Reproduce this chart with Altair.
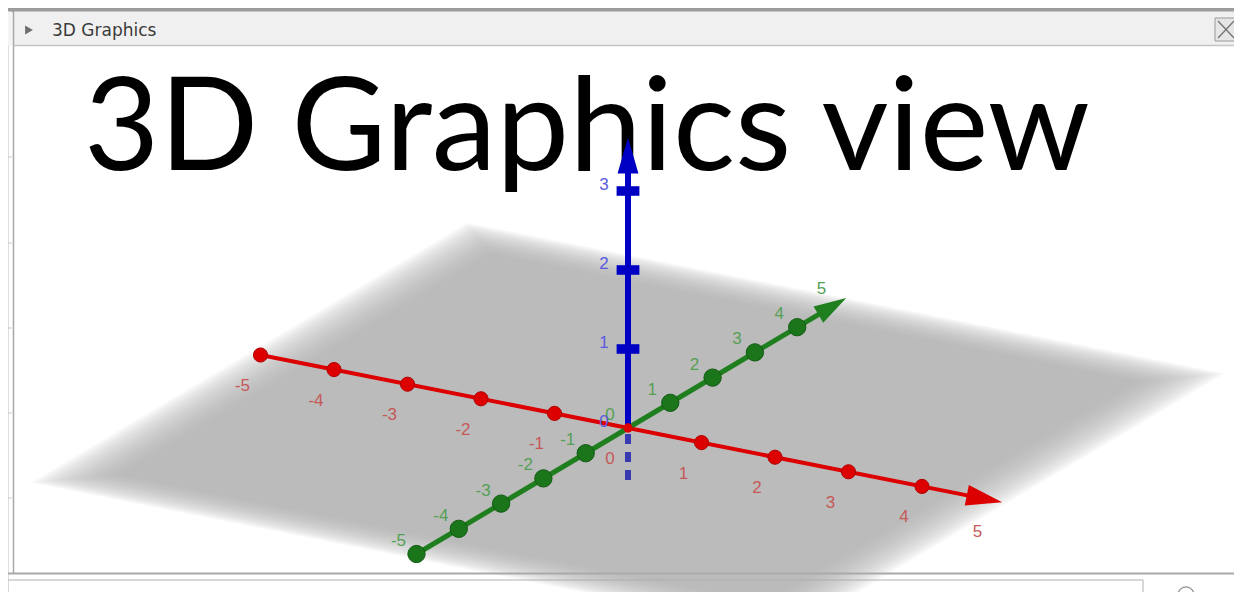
import math
import altair as alt
import pandas as pd

# ---------------- data (axis values) ----------------
x_bead_vals = [-5, -4, -3, -2, -1, 1, 2, 3, 4]
y_bead_vals = [-5, -4, -3, -2, -1, 1, 2, 3, 4]
z_bead_vals = [1, 2, 3]
x_label_vals = [-5, -4, -3, -2, -1, 0, 1, 2, 3, 4, 5]
y_label_vals = [-5, -4, -3, -2, -1, 0, 1, 2, 3, 4, 5]
z_label_vals = [0, 1, 2, 3]
plane_half_extents = [5.15, 5.1, 5.05, 5.0, 4.95, 4.9, 4.85, 4.8,
                      4.75, 4.7, 4.65, 4.6, 4.55, 4.5, 4.45, 4.4]

# ---------------- view / projection (style) ----------------
W, H = 1226, 584          # chart drawn at page offset (8, 8)
ORIGIN = (628.0, 428.0)
UX = (73.5, 14.6)
UY = (42.3, -25.2)
UZ = (0.0, -79.0)

RED, GREEN, BLUE = "#dc0000", "#1f7f1f", "#0000c4"
RED_T, GREEN_T, BLUE_T = "#c65858", "#55a055", "#5a5ae0"


def proj(x=0.0, y=0.0, z=0.0):
    return (ORIGIN[0] + x * UX[0] + y * UY[0] + z * UZ[0],
            ORIGIN[1] + x * UX[1] + y * UY[1] + z * UZ[1])


def ang(v):
    a = math.degrees(math.atan2(v[1], v[0]))
    return a % 360


xs = alt.Scale(domain=[8, 8 + W], nice=False, zero=False)
ys = alt.Scale(domain=[8, 8 + H], nice=False, zero=False, reverse=True)


def X(f):
    return alt.X(f, type="quantitative", scale=xs, axis=None)


def Y(f):
    return alt.Y(f, type="quantitative", scale=ys, axis=None)


def X2(f):
    return alt.X2(f)


def Y2(f):
    return alt.Y2(f)


# ---------------- plane (soft edged gray square z=0) ----------------
def interp(p, q, xv):
    t = (xv - p[0]) / (q[0] - p[0])
    return p[1] + t * (q[1] - p[1])


rows = []
for s in plane_half_extents:
    L = proj(-s, -s); T = proj(-s, s); R = proj(s, s); B = proj(s, -s)
    rows += [
        dict(s=s, px=L[0], top=L[1], bot=L[1]),
        dict(s=s, px=T[0], top=T[1], bot=interp(L, B, T[0])),
        dict(s=s, px=B[0], top=interp(T, R, B[0]), bot=B[1]),
        dict(s=s, px=R[0], top=R[1], bot=R[1]),
    ]
plane_df = pd.DataFrame(rows)
plane = alt.Chart(plane_df).mark_area(
    color="#b0b0b0", opacity=0.1, clip=True, interpolate="linear"
).encode(x=X("px"), y=alt.Y("top", type="quantitative", scale=ys, axis=None, stack=None),
         y2=Y2("bot"), detail="s:N")

# ---------------- axis lines ----------------
line_rows = []
a, b = proj(x=-5), proj(x=4.65)
line_rows.append(dict(x=a[0], y=a[1], x2=b[0], y2=b[1], c=RED, w=4))
a, b = proj(y=-5), proj(y=4.55)
line_rows.append(dict(x=a[0], y=a[1], x2=b[0], y2=b[1], c=GREEN, w=5))
a, b = proj(z=0), proj(z=3.3)
line_rows.append(dict(x=a[0], y=a[1], x2=b[0], y2=b[1], c=BLUE, w=6))
lines_df = pd.DataFrame(line_rows)
lines = alt.Chart(lines_df).mark_rule(strokeCap="round").encode(
    x=X("x"), y=Y("y"), x2=X2("x2"), y2=Y2("y2"),
    color=alt.Color("c:N", scale=None), strokeWidth=alt.StrokeWidth("w:Q", scale=None))

a, b = proj(z=0), proj(z=-0.72)
dash_df = pd.DataFrame([dict(x=a[0], y=a[1] + 6, x2=b[0], y2=b[1])])
dash = alt.Chart(dash_df).mark_rule(color="#3a3ab0", strokeWidth=6, strokeDash=[10, 8]).encode(
    x=X("x"), y=Y("y"), x2=X2("x2"), y2=Y2("y2"))

# ---------------- beads ----------------
bead_rows = []
for v in x_bead_vals:
    p = proj(x=v); bead_rows.append(dict(x=p[0], y=p[1], c=RED, k="r"))
for v in y_bead_vals:
    p = proj(y=v); bead_rows.append(dict(x=p[0], y=p[1], c=GREEN, k="g"))
beads_df = pd.DataFrame(bead_rows)
beads_r = alt.Chart(beads_df[beads_df.k == "r"]).mark_circle(
    size=200, opacity=1, color=RED, stroke="#b00000", strokeWidth=1).encode(x=X("x"), y=Y("y"))
beads_g = alt.Chart(beads_df[beads_df.k == "g"]).mark_circle(
    size=300, opacity=1, color="#1b761b", stroke="#135a13", strokeWidth=1).encode(x=X("x"), y=Y("y"))

zb = pd.DataFrame([dict(x=proj(z=v)[0], y=proj(z=v)[1]) for v in z_bead_vals])
beads_b = alt.Chart(zb).mark_point(
    shape="M-1,-0.42L1,-0.42L1,0.42L-1,0.42Z", size=520, filled=True, opacity=1, color=BLUE
).encode(x=X("x"), y=Y("y"))

o = proj()
origin_df = pd.DataFrame([dict(x=o[0], y=o[1])])
origin_dot = alt.Chart(origin_df).mark_circle(size=90, color=RED, opacity=1).encode(x=X("x"), y=Y("y"))

# ---------------- arrow heads ----------------
arrow_path = "M1,0L-1,-0.58L-1,0.58Z"
arr_rows = []
p = proj(x=4.85); arr_rows.append(dict(x=p[0], y=p[1], c=RED, a=ang(UX), s=1300))
p = proj(y=4.83); arr_rows.append(dict(x=p[0], y=p[1], c=GREEN, a=ang(UY), s=1050))
p = proj(z=3.45); arr_rows.append(dict(x=p[0], y=p[1], c=BLUE, a=ang((0, -1)), s=1300))
arr_df = pd.DataFrame(arr_rows)
arrows = alt.Chart(arr_df).mark_point(shape=arrow_path, filled=True, opacity=1).encode(
    x=X("x"), y=Y("y"), color=alt.Color("c:N", scale=None),
    angle=alt.Angle("a:Q", scale=None), size=alt.Size("s:Q", scale=None))

# ---------------- tick labels ----------------
lab_rows = []
for v in x_label_vals:
    p = proj(x=v); lab_rows.append(dict(x=p[0] - 18, y=p[1] + 31, t=str(v), c=RED_T))
for v in y_label_vals:
    p = proj(y=v); lab_rows.append(dict(x=p[0] - 18, y=p[1] - 13, t=str(v), c=GREEN_T))
for v in z_label_vals:
    p = proj(z=v); lab_rows.append(dict(x=p[0] - 24, y=p[1] - 6, t=str(v), c=BLUE_T))
lab_df = pd.DataFrame(lab_rows)
labels = alt.Chart(lab_df).mark_text(
    font="Liberation Sans", fontSize=17, align="center", baseline="middle").encode(
    x=X("x"), y=Y("y"), text="t:N", color=alt.Color("c:N", scale=None))

# ---------------- window chrome ----------------
chrome_rects = pd.DataFrame([
    dict(x=8, x2=1234, y=8, y2=12, f="#9c9c9c", st="#9c9c9c"),      # top bar
    dict(x=14, x2=1238, y=12, y2=45, f="#f0f0f0", st="#f0f0f0"),    # title bar
    dict(x=8, x2=12, y=12, y2=45, f="#f4f4f4", st="#f4f4f4"),
    dict(x=1215, x2=1237, y=18, y2=41, f="#e6e6e6", st="#9a9a9a"),  # close box
    dict(x=8, x2=1143, y=580, y2=600, f="#ffffff", st="#b0b0b0"),   # input bar
])
chrome = alt.Chart(chrome_rects).mark_rect(strokeWidth=1, clip=True).encode(
    x=X("x"), x2=X2("x2"), y=Y("y"), y2=Y2("y2"),
    color=alt.Color("f:N", scale=None), stroke=alt.Stroke("st:N", scale=None))

chrome_lines = pd.DataFrame([
    dict(x=14, x2=1238, y=45.5, y2=45.5, c="#c4c4c4", w=1.5),
    dict(x=13.5, x2=13.5, y=12, y2=574, c="#a8a8a8", w=1.5),
    dict(x=1238, x2=1238, y=45, y2=574, c="#d4d4d4", w=1),
    dict(x=8, x2=1234, y=573.5, y2=573.5, c="#a9a9a9", w=2),
    dict(x=1218, x2=1234, y=21, y2=38, c="#777777", w=1.4),
    dict(x=1218, x2=1234, y=38, y2=21, c="#777777", w=1.4),
    dict(x=8, x2=12, y=157, y2=157, c="#c8c8c8", w=1),
    dict(x=8, x2=12, y=243, y2=243, c="#c8c8c8", w=1),
    dict(x=8, x2=12, y=328, y2=328, c="#c8c8c8", w=1),
    dict(x=8, x2=12, y=413, y2=413, c="#c8c8c8", w=1),
    dict(x=8, x2=12, y=498, y2=498, c="#c8c8c8", w=1),
])
chrome_l = alt.Chart(chrome_lines).mark_rule().encode(
    x=X("x"), x2=X2("x2"), y=Y("y"), y2=Y2("y2"),
    color=alt.Color("c:N", scale=None), strokeWidth=alt.StrokeWidth("w:Q", scale=None))

title_bar_text = alt.Chart(pd.DataFrame([dict(x=52, y=36, t="3D Graphics")])).mark_text(
    font="DejaVu Sans", fontSize=17, align="left", baseline="alphabetic", color="#3a3a3a"
).encode(x=X("x"), y=Y("y"), text="t:N")
tri = alt.Chart(pd.DataFrame([dict(x=29, y=30)])).mark_point(
    shape="triangle-right", size=80, filled=True, color="#6e6e6e", opacity=1
).encode(x=X("x"), y=Y("y"))
help_icon = alt.Chart(pd.DataFrame([dict(x=1186, y=595)])).mark_point(
    shape="circle", size=260, filled=False, color="#8a8a8a", strokeWidth=1.2, opacity=1, clip=True
).encode(x=X("x"), y=Y("y"))

big_title = alt.Chart(pd.DataFrame([dict(x=84, y=170, t="3D Graphics view")])).mark_text(
    font="Lato", fontSize=130, align="left", baseline="alphabetic", color="#000000"
).encode(x=X("x"), y=Y("y"), text="t:N")

chart = alt.layer(
    chrome, chrome_l, title_bar_text, tri, help_icon,
    plane, dash, lines, beads_r, beads_g, beads_b, origin_dot, big_title, arrows, labels
).properties(
    width=W, height=H, padding=0, autosize=alt.AutoSizeParams(type="none")
).configure_view(stroke=None).configure(background="#ffffff")

chart.save("out.html", embed_options={"renderer": "svg", "actions": False})
